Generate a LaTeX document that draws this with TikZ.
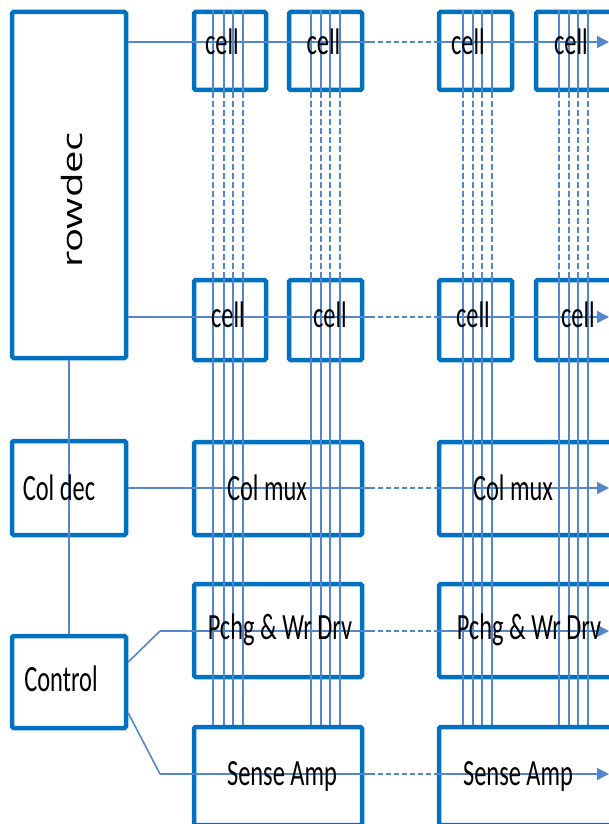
\documentclass[tikz,border=0pt]{standalone}
\usepackage{fontspec}
\setmainfont{Carlito}
\newfontfamily\decfont{Open Sans}
\usetikzlibrary{arrows.meta}
\definecolor{boxblue}{RGB}{0,112,192}
\definecolor{wireblue}{RGB}{84,134,204}
% condensed text, as in the block labels
\newcommand\narrowtxt[1]{\scalebox{0.66}[1]{#1}}
\begin{document}
\begin{tikzpicture}[x=1pt,y=-1pt,
  blk/.style={draw=boxblue, line width=4.5pt, fill=white, rounded corners=1.5pt, inner sep=0pt},
  lbl/.style={inner sep=0pt, font=\fontsize{37}{42}\selectfont},
  wire/.style={draw=wireblue, line width=1.6pt},
  bit/.style={draw=wireblue, line width=1.3pt},
  gapped/.style={dash pattern=on 5pt off 3pt},
  vgapped/.style={dash pattern=on 6pt off 3pt},
  tip/.style={-{Triangle[length=12pt,width=12pt]}}]

\path[use as bounding box, clip] (0,0) rectangle (609,824);

% decoders and control
\node[blk, minimum width=114pt, minimum height=346pt] (rowdec)  at (69,185) {};
\node[blk, minimum width=114pt, minimum height=94pt]  (coldec)  at (69,488) {};
\node[blk, minimum width=114pt, minimum height=92pt]  (control) at (69,682) {};

% cell array: row a (top) and row b
\foreach \n/\x/\w in {1/230/72, 2/325.5/73, 3/475.5/73, 4/576/80} {
  \node[blk, minimum width=\w pt, minimum height=78pt] (ca\n) at (\x,51) {};
  \node[blk, minimum width=\w pt, minimum height=80pt] (cb\n) at (\x,320) {};
}

% column periphery
\foreach \s/\x/\w in {A/278/168, B/529/180} {
  \node[blk, minimum width=\w pt, minimum height=93pt] (mux\s)   at (\x,488.5) {};
  \node[blk, minimum width=\w pt, minimum height=93pt] (pchg\s)  at (\x,630.5) {};
  \node[blk, minimum width=\w pt, minimum height=98pt] (sense\s) at (\x,776) {};
}

% bit lines: solid through the cells, dashed between rows
\foreach \x in {213,224,233,243,311,321,330,340} {
  \draw[bit] (ca1.north -| \x,0) -- (ca1.south -| \x,0);
  \draw[bit, vgapped] (ca1.south -| \x,0) -- (cb1.north -| \x,0);
  \draw[bit] (cb1.north -| \x,0) -- (senseA.north -| \x,0);
}
\foreach \x in {463,473,482,492,559,569,578,588} {
  \draw[bit] (ca3.north -| \x,0) -- (ca3.south -| \x,0);
  \draw[bit, vgapped] (ca3.south -| \x,0) -- (cb3.north -| \x,0);
  \draw[bit] (cb3.north -| \x,0) -- (senseB.north -| \x,0);
}

% decoder spine
\draw[wire] (rowdec.south) -- (control.north);

% word lines and column signals
\coordinate (wa) at (128,42);
\coordinate (wb) at (128,317);
\coordinate (pk) at (160,631);
\coordinate (sk) at (160,774);
\draw[wire] (control.east |- 0,662) -- (pk);
\draw[wire] (control.east |- 0,713) -- (sk);

\foreach \src/\y/\c in {wa/42/ca3, wb/317/cb3, coldec.east/488/muxB, pk/631/pchgB, sk/774/senseB} {
  \draw[wire] (\src |- 0,\y) -- (370,\y);
  \draw[wire, gapped] (370,\y) -- (\c.west |- 0,\y);
  \draw[wire, tip] (\c.west |- 0,\y) -- (609,\y);
}

% labels
\node[lbl, font=\decfont\fontsize{40}{44}\selectfont] (trow) at (72,200)
  {\scalebox{0.7}[1]{\rotatebox{90}{rowdec}}};
\node[lbl] (tcoldec) at (59,488) {\narrowtxt{Col dec}};
\node[lbl] (tctl) at (61,679) {\narrowtxt{Control}};

\foreach \x [count=\i] in {222,323.5,468,571}
  \node[lbl] (tca\i) at (\x,42) {\narrowtxt{cell}};
\foreach \x [count=\i] in {228,330,473,578}
  \node[lbl] (tcb\i) at (\x,315) {\narrowtxt{cell}};

\node[lbl] (tmuxA) at (267,488) {\narrowtxt{Col mux}};
\node[lbl] (tmuxB) at (513,488) {\narrowtxt{Col mux}};
\node[lbl] (tpchgA) at (280,630) {\narrowtxt{Pchg \& Wr Drv}};
\node[lbl] (tpchgB) at (529,630) {\narrowtxt{Pchg \& Wr Drv}};
\node[lbl] (tsenseA) at (282,776) {\narrowtxt{Sense Amp}};
\node[lbl] (tsenseB) at (518,776) {\narrowtxt{Sense Amp}};
\end{tikzpicture}
\end{document}
